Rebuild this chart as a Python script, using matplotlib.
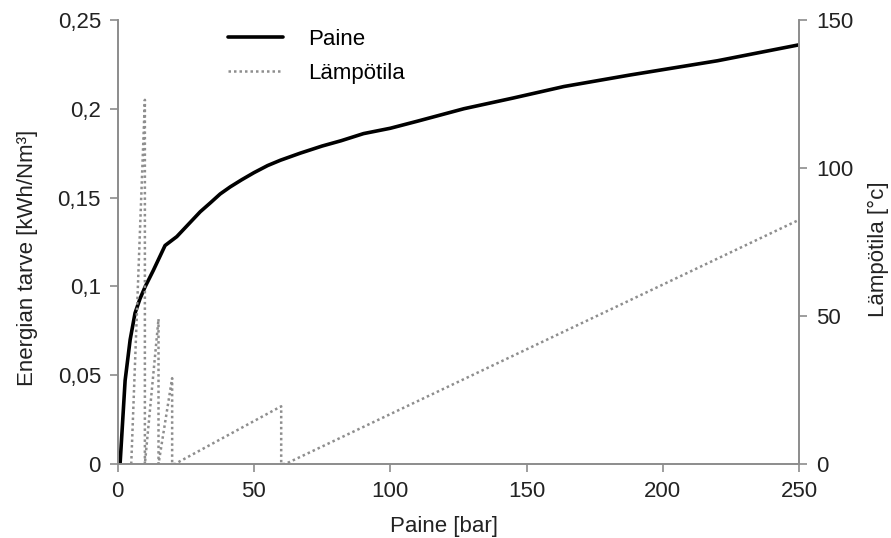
import matplotlib
matplotlib.use("Agg")
import matplotlib.pyplot as plt

plt.rcParams.update({'font.family': ['Liberation Sans', 'DejaVu Sans'],
                     'font.size': 16})

# energy demand vs pressure
p_energy = [0.9, 2.75, 4.6, 6.4, 8.2, 10.1, 13.1, 17.4, 21.7, 26, 30.3, 34,
            37.6, 41.3, 45.5, 50, 55, 59.7, 67, 75, 82, 90.2, 100, 110, 127,
            145, 163.7, 188, 220, 250]
energy = [0, 0.047, 0.070, 0.085, 0.093, 0.0998, 0.109, 0.123, 0.128, 0.135,
          0.142, 0.147, 0.152, 0.156, 0.160, 0.164, 0.168, 0.171, 0.175,
          0.179, 0.182, 0.186, 0.189, 0.193, 0.200, 0.206, 0.2125, 0.219,
          0.227, 0.236]

# temperature vs pressure
p_temp = [5, 10, 10, 15, 15, 20, 20, 21, 60, 60, 61.5, 250]
temp = [0, 123, 0, 49, 0, 29, 0, 0, 19.5, 0, 0, 82.5]

yticks_left = [0, 0.05, 0.1, 0.15, 0.2, 0.25]
ylabels_left = ["0", "0,05", "0,1", "0,15", "0,2", "0,25"]

spine_col = "#8c8c8c"
text_col = "#222222"

fig = plt.figure(figsize=(8.91, 5.38), dpi=100)
ax = fig.add_axes([0.132, 0.1375, 0.765, 0.8255])
ax2 = ax.twinx()

l1, = ax.plot(p_energy, energy, color="black", lw=2.6, label="Paine",
              solid_capstyle="round")
l2, = ax2.plot(p_temp, temp, color="#8e8e8e", lw=1.8, ls=(0, (1, 1.2)),
               label="Lämpötila")

ax.set_xlim(0, 250)
ax.set_ylim(0, 0.25)
ax2.set_ylim(0, 150)
ax.set_xticks([0, 50, 100, 150, 200, 250])
ax.set_yticks(yticks_left)
ax.set_yticklabels(ylabels_left)
ax2.set_yticks([0, 50, 100, 150])

for a in (ax, ax2):
    a.spines["top"].set_visible(False)
    for s in ("left", "right", "bottom"):
        a.spines[s].set_color(spine_col)
        a.spines[s].set_linewidth(1.2)
    a.tick_params(colors=spine_col, labelcolor=text_col, length=6,
                  width=1.2, labelsize=16, pad=6)

ax.set_xlabel("Paine [bar]", color=text_col, fontsize=16)
ax.set_ylabel("Energian tarve [kWh/Nm³]", color=text_col, fontsize=16)
ax2.set_ylabel("Lämpötila [°c]", color=text_col, fontsize=16)
ax.xaxis.set_label_coords(0.479, -0.117)
ax.yaxis.set_label_coords(-0.117, 0.465)
ax2.yaxis.set_label_coords(1.101, 0.483)

ax.legend(handles=[l1, l2], loc="upper left", bbox_to_anchor=(0.133, 1.025),
          frameon=False, fontsize=16, handlelength=2.45, handletextpad=1.15,
          labelspacing=0.6)

fig.savefig("out.png", dpi=100)
